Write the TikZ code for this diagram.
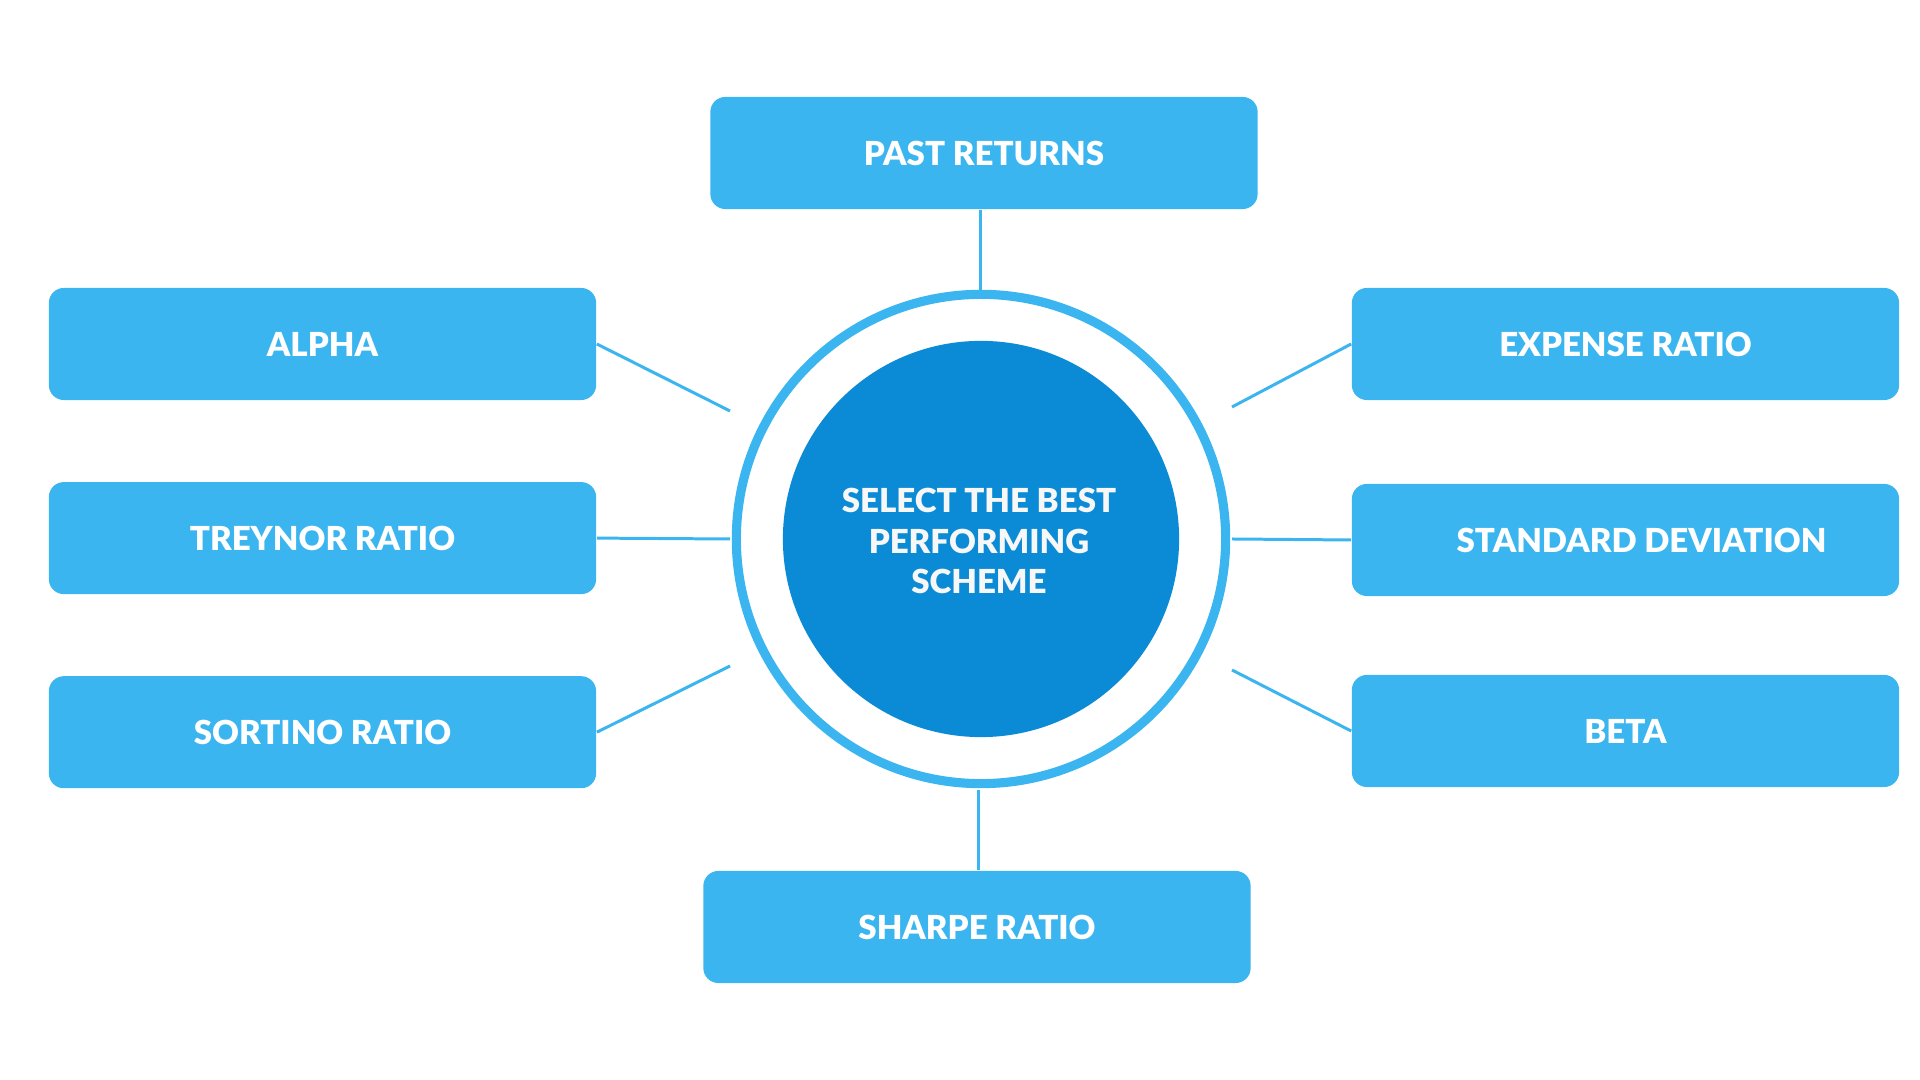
\documentclass[tikz,border=0pt]{standalone}
\usepackage{fontspec}
\setmainfont{Lato}[BoldFont={* Black}]
\usepackage{tikz}
\usetikzlibrary{positioning}
\definecolor{boxblue}{HTML}{3BB5EF}
\definecolor{coreblue}{HTML}{0B8BD6}
\definecolor{txtwhite}{HTML}{F7F7F7}

\begin{document}
\begin{tikzpicture}[x=0.01cm,y=-0.01cm,node distance=1.94cm]
        \tikzstyle{factor}=[rectangle,rounded corners=0.15cm,fill=boxblue,
                text=white,font=\fontsize{9.4}{11.4}\selectfont\bfseries,
                minimum width=5.47cm,minimum height=1.12cm,inner sep=0pt]
        \tikzstyle{link}=[draw=boxblue,line width=0.85pt]

        \useasboundingbox (0,0) rectangle (1920,1080);

        % centre
        \node[circle,draw=boxblue,line width=2.6pt,minimum size=4.89cm,inner sep=0pt] (C01) at (981,539) { };
        \node[circle,fill=coreblue,minimum size=3.96cm,inner sep=0pt] (C02) at (981,539) { };
        \node[text=txtwhite,align=center,font=\fontsize{9.4}{11.4}\selectfont\bfseries] (C03) at (979,541)
                {SELECT THE BEST\\PERFORMING\\SCHEME};

        \node[factor] (R01) at (984,153)       {PAST RETURNS};
        \node[factor] (R02) at (322.5,344)     {ALPHA};           % left
        \node[factor] (R03) [below of=R02]     {TREYNOR RATIO};
        \node[factor] (R04) [below of=R03]     {SORTINO RATIO};
        \node[factor] (R05) at (1625.5,344)    {EXPENSE RATIO};   % right
        \node[factor] (R06) at (1625.5,540)    {\hspace{0.32cm}STANDARD DEVIATION};
        \node[factor] (R07) at (1625.5,731)    {BETA};
        \node[factor] (R08) at (977,927)       {SHARPE RATIO};

        % free ends
        \coordinate (E01) at (980,290);
        \coordinate (E02) at (730,411);
        \coordinate (E03) at (730,539);
        \coordinate (E04) at (730,666);
        \coordinate (E05) at (1232,407);
        \coordinate (E06) at (1232,539);
        \coordinate (E07) at (1232,670);
        \coordinate (E08) at (978,790);

        \path[link]
                  (R01.south -| E01) edge (E01)
                  (R02.east)  edge (E02)
                  (R03.east)  edge (E03)
                  (R04.east)  edge (E04)
                  (R05.west)  edge (E05)
                  (R06.west)  edge (E06)
                  (R07.west)  edge (E07)
                  (R08.north -| E08) edge (E08);
\end{tikzpicture}
\end{document}
